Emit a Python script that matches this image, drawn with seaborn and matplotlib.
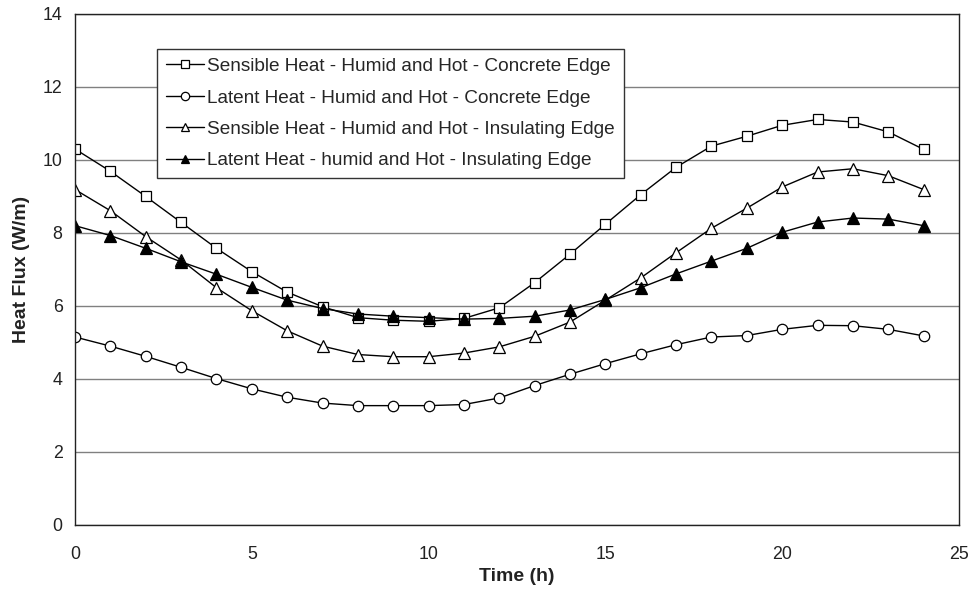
import matplotlib
matplotlib.use("Agg")
import matplotlib.pyplot as plt
import seaborn as sns
import pandas as pd
import numpy as np

hours = list(range(25))

sens_concrete = [10.3, 9.69, 9.0, 8.29, 7.58, 6.94, 6.38, 5.98, 5.68, 5.61, 5.58, 5.66, 5.95,
                 6.64, 7.42, 8.24, 9.05, 9.8, 10.38, 10.65, 10.95, 11.11, 11.04, 10.77, 10.29]
lat_concrete = [5.15, 4.9, 4.62, 4.32, 4.01, 3.73, 3.5, 3.34, 3.27, 3.27, 3.27, 3.3, 3.48,
                3.82, 4.13, 4.42, 4.69, 4.94, 5.15, 5.19, 5.36, 5.47, 5.46, 5.36, 5.18]
sens_insul = [9.19, 8.61, 7.9, 7.26, 6.5, 5.87, 5.32, 4.9, 4.67, 4.61, 4.61, 4.71, 4.88,
              5.17, 5.56, 6.16, 6.77, 7.46, 8.13, 8.68, 9.26, 9.67, 9.76, 9.57, 9.19]
lat_insul = [8.2, 7.93, 7.58, 7.21, 6.87, 6.51, 6.16, 5.93, 5.78, 5.72, 5.68, 5.64, 5.66,
             5.72, 5.89, 6.18, 6.5, 6.88, 7.23, 7.58, 8.02, 8.3, 8.41, 8.38, 8.2]

labels = [
    "Sensible Heat - Humid and Hot - Concrete Edge",
    "Latent Heat - Humid and Hot - Concrete Edge",
    "Sensible Heat - Humid and Hot - Insulating Edge",
    "Latent Heat - humid and Hot - Insulating Edge",
]
series = [sens_concrete, lat_concrete, sens_insul, lat_insul]
markers = ["s", "o", "^", "^"]
msizes = [7, 7.5, 8, 8]
facecolors = ["white", "white", "white", "black"]

sns.set_theme(style="white")
plt.rcParams['font.family'] = ['Liberation Sans', 'DejaVu Sans']

fig = plt.figure(figsize=(9.72, 5.9), dpi=100)
ax = fig.add_axes([0.0772, 0.1102, 0.9094, 0.8661])

for lab, vals, mk, ms, fc in zip(labels, series, markers, msizes, facecolors):
    df = pd.DataFrame({"Time": hours, "Flux": vals})
    sns.lineplot(data=df, x="Time", y="Flux", ax=ax, color="black", linewidth=1.0,
                 marker=mk, markersize=ms, markerfacecolor=fc,
                 markeredgecolor="black", markeredgewidth=0.9, label=lab)

ax.set_xlim(0, 25)
ax.set_ylim(0, 14)
ax.set_xticks([0, 5, 10, 15, 20, 25])
ax.set_yticks([0, 2, 4, 6, 8, 10, 12, 14])
ax.yaxis.grid(True, color="#808080", linewidth=1.0)
ax.set_axisbelow(True)
for s in ax.spines.values():
    s.set_color("#222222")
    s.set_linewidth(1.0)
ax.tick_params(axis="both", which="major", direction="out", length=5, width=1,
               color="#555555", labelsize=12.8, labelcolor="#222222", pad=4)
ax.tick_params(axis="x", pad=10)
ax.set_xlabel("Time (h)", fontsize=14, fontweight="bold", labelpad=4, color="#222222")
ax.set_ylabel("Heat Flux (W/m)", fontsize=14, fontweight="bold", labelpad=9, color="#222222")

leg = ax.legend(loc="upper left", bbox_to_anchor=(0.0928, 0.931), fontsize=13.7,
                frameon=True, fancybox=False, edgecolor="#333333", framealpha=1,
                handlelength=2.0, handletextpad=0.2, labelspacing=0.74, borderpad=0.45,
                borderaxespad=0)
leg.get_frame().set_linewidth(1.0)
for h in leg.legend_handles:
    h.set_markersize(6)

fig.savefig("out.png", dpi=100)
